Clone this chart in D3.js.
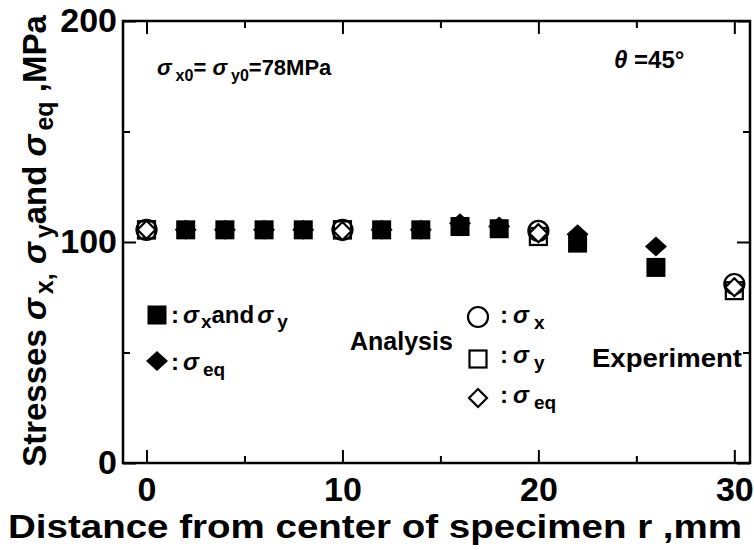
<!DOCTYPE html>
<html>
<head>
<meta charset="utf-8">
<script src="https://cdn.jsdelivr.net/npm/d3@7"></script>
<style>
  body { margin: 0; background: #fff; }
  text { font-family: "Liberation Sans", Arial, sans-serif; font-weight: bold; fill: #000; }
</style>
</head>
<body>
<script>
'use strict'

// analysis (filled marks)
const rAnalysis = [0, 2, 4, 6, 8, 10, 12, 14, 16, 18, 22, 26]
const sxyAnalysis = [105.5, 105.5, 105.5, 105.5, 105.5, 105.5, 105.5, 105.5, 107, 106, 99.5, 88.5]
const seqAnalysis = [105.5, 105.5, 105.5, 105.5, 105.5, 105.5, 105.5, 105.5, 108.5, 107, 103.5, 98]

// experiment (open marks)
const rExp = [0, 10, 20, 30]
const sxExp = [105.5, 105.5, 105, 81]
const syExp = [105.5, 105.5, 102.5, 78]
const seqExp = [105.5, 105, 104, 79.5]

const xMajor = [0, 10, 20, 30]
const xMinor = [5, 15, 25]
const yMajor = [0, 100, 200]
const yMinor = [50, 150]

const width = 754
const height = 550
const mLeft = 123, mRight = 750, mTop = 21, mBottom = 463

const svg = d3.select('body').append('svg').attr('width', width).attr('height', height)

const x = d3.scaleLinear().domain([-1.2, 30.8]).range([mLeft, mRight])
const y = d3.scaleLinear().domain([0, 200]).range([mBottom, mTop])

function styleAxis(g) {
    g.select('.domain').remove()
    g.selectAll('line').attr('stroke', '#000').attr('stroke-width', 2)
    g.selectAll('text').attr('font-size', 34).attr('font-family', '"Liberation Sans", Arial, sans-serif')
        .attr('font-weight', 'bold').attr('fill', '#000')
}

svg.append('g').attr('transform', `translate(0,${mBottom})`)
    .call(d3.axisBottom(x).tickValues(xMajor).tickSize(-13).tickPadding(14)).call(styleAxis)
svg.append('g').attr('transform', `translate(0,${mBottom})`)
    .call(d3.axisBottom(x).tickValues(xMinor).tickSize(-7).tickFormat('')).call(styleAxis)
svg.append('g').attr('transform', `translate(0,${mTop})`)
    .call(d3.axisTop(x).tickValues(xMajor).tickSize(-13).tickFormat('')).call(styleAxis)
svg.append('g').attr('transform', `translate(0,${mTop})`)
    .call(d3.axisTop(x).tickValues(xMinor).tickSize(-7).tickFormat('')).call(styleAxis)
svg.append('g').attr('transform', `translate(${mLeft},0)`)
    .call(d3.axisLeft(y).tickValues(yMajor).tickSize(-13).tickPadding(6)).call(styleAxis)
svg.append('g').attr('transform', `translate(${mLeft},0)`)
    .call(d3.axisLeft(y).tickValues(yMinor).tickSize(-7).tickFormat('')).call(styleAxis)
svg.append('g').attr('transform', `translate(${mRight},0)`)
    .call(d3.axisRight(y).tickValues(yMajor).tickSize(-13).tickFormat('')).call(styleAxis)
svg.append('g').attr('transform', `translate(${mRight},0)`)
    .call(d3.axisRight(y).tickValues(yMinor).tickSize(-7).tickFormat('')).call(styleAxis)

svg.append('rect').attr('x', mLeft).attr('y', mTop).attr('width', mRight - mLeft).attr('height', mBottom - mTop)
    .attr('fill', 'none').attr('stroke', '#000').attr('stroke-width', 2.5)

// marker shapes
function shape(g, type, cx, cy, filled) {
    const fill = filled ? '#000' : '#fff'
    const sw = filled ? 0 : 2.2
    if (type === 'square') {
        const s = filled ? 19 : 17
        g.append('rect').attr('x', cx - s / 2).attr('y', cy - s / 2).attr('width', s).attr('height', s)
            .attr('fill', filled ? '#000' : 'none').attr('stroke', '#000').attr('stroke-width', sw)
    } else if (type === 'diamond') {
        const w = filled ? 11 : 9, h = filled ? 10 : 9
        g.append('path').attr('d', `M${cx},${cy - h}L${cx + w},${cy}L${cx},${cy + h}L${cx - w},${cy}Z`)
            .attr('fill', fill).attr('stroke', '#000').attr('stroke-width', sw)
    } else {
        g.append('circle').attr('cx', cx).attr('cy', cy).attr('r', 10)
            .attr('fill', fill).attr('stroke', '#000').attr('stroke-width', sw)
    }
}

const marks = svg.append('g')
rAnalysis.forEach((r, i) => shape(marks, 'diamond', x(r), y(seqAnalysis[i]), true))
rAnalysis.forEach((r, i) => shape(marks, 'square', x(r), y(sxyAnalysis[i]), true))
rExp.forEach((r, i) => shape(marks, 'circle', x(r), y(sxExp[i]), false))
rExp.forEach((r, i) => shape(marks, 'square', x(r), y(syExp[i]), false))
rExp.forEach((r, i) => shape(marks, 'diamond', x(r), y(seqExp[i]), false))

// text with sigma and subscripts
function rich(t, parts) {
    let shift = 0
    parts.forEach(p => {
        const ts = t.append('tspan').text(p.t)
        const want = p.sub ? p.sub : 0
        if (want !== shift) { ts.attr('dy', want - shift); shift = want }
        if (p.size) ts.attr('font-size', p.size)
        if (p.it) ts.attr('font-style', 'italic')
        if (p.dx) ts.attr('dx', p.dx)
    })
    return t
}

const sig = { t: 'σ', it: true }

rich(svg.append('text').attr('x', 157).attr('y', 75).attr('font-size', 22), [
    sig, { t: 'x0', sub: 6, size: 16, dx: 4 }, { t: '= ' },
    sig, { t: 'y0', sub: 6, size: 16, dx: 4 }, { t: '=78MPa' }])

rich(svg.append('text').attr('x', 614).attr('y', 68).attr('font-size', 24), [
    { t: 'θ', it: true }, { t: ' =45°' }])

// analysis legend
shape(svg, 'square', 157, 315, true)
shape(svg, 'diamond', 157, 361, true)
rich(svg.append('text').attr('x', 171).attr('y', 323).attr('font-size', 24), [
    { t: ':' }, { t: 'σ', it: true, dx: 4 }, { t: 'x', sub: 5, size: 19, dx: 2 }, { t: 'and' },
    { t: 'σ', it: true, dx: 3 }, { t: 'y', sub: 5, size: 19, dx: 4 }])
rich(svg.append('text').attr('x', 171).attr('y', 370).attr('font-size', 24), [
    { t: ':' }, { t: 'σ', it: true, dx: 4 }, { t: 'eq', sub: 6, size: 19, dx: 4 }])
svg.append('text').attr('x', 350).attr('y', 350).attr('font-size', 25).text('Analysis')

// experiment legend
shape(svg, 'circle', 478, 317, false)
shape(svg, 'square', 478, 359, false)
shape(svg, 'diamond', 478, 398, false)
rich(svg.append('text').attr('x', 500).attr('y', 323).attr('font-size', 24), [
    { t: ':' }, { t: 'σ', it: true, dx: 5 }, { t: 'x', sub: 6, size: 19, dx: 5 }])
rich(svg.append('text').attr('x', 500).attr('y', 363).attr('font-size', 24), [
    { t: ':' }, { t: 'σ', it: true, dx: 5 }, { t: 'y', sub: 6, size: 19, dx: 5 }])
rich(svg.append('text').attr('x', 500).attr('y', 403).attr('font-size', 24), [
    { t: ':' }, { t: 'σ', it: true, dx: 5 }, { t: 'eq', sub: 6, size: 19, dx: 5 }])
svg.append('text').attr('x', 592).attr('y', 367).attr('font-size', 25)
    .attr('textLength', 150).attr('lengthAdjust', 'spacingAndGlyphs').text('Experiment')

// axis titles
svg.append('text').attr('x', 8).attr('y', 538).attr('font-size', 34)
    .attr('textLength', 734).attr('lengthAdjust', 'spacingAndGlyphs')
    .text('Distance from center of specimen r ,mm')

rich(svg.append('text').attr('transform', 'translate(46,241) rotate(-90)')
    .attr('text-anchor', 'middle').attr('font-size', 33), [
    { t: 'Stresses  ' }, { t: 'σ', it: true }, { t: 'x,', sub: 7, size: 25, dx: 4 },
    { t: ' ' }, { t: 'σ', it: true }, { t: 'y', sub: 7, size: 25, dx: 4 }, { t: 'and ' },
    { t: 'σ', it: true }, { t: 'eq', sub: 7, size: 25, dx: 4 }, { t: ' ,MPa' }])
</script>
</body>
</html>
